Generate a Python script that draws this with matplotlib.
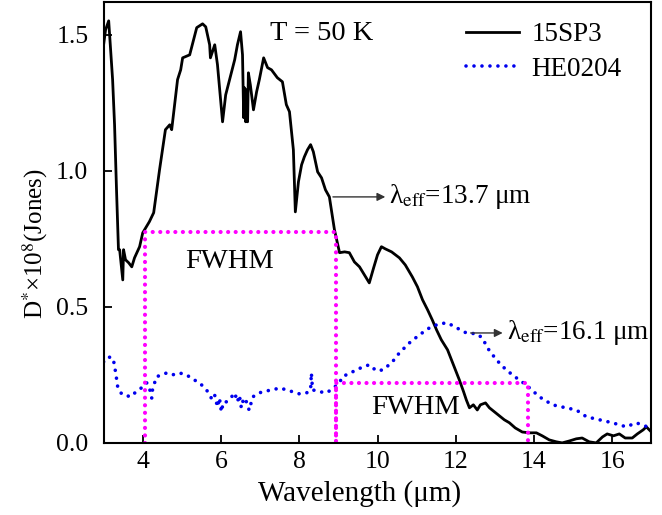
import numpy as np
import matplotlib
matplotlib.use('Agg')
import matplotlib.pyplot as plt

plt.rcParams['font.family'] = ['Liberation Serif', 'DejaVu Serif']
plt.rcParams['mathtext.fontset'] = 'stix'

# 15SP3 (black, solid)
wl_sp3 = [3.0, 3.0, 3.05, 3.13, 3.23, 3.28, 3.33, 3.38, 3.41, 3.49, 3.51, 3.56, 3.64, 3.72,
          3.79, 3.92, 4.00, 4.17, 4.28, 4.43, 4.58, 4.69, 4.74, 4.89, 4.97, 5.02, 5.20, 5.38,
          5.53, 5.61, 5.71, 5.73, 5.84, 5.91, 5.99, 6.04, 6.12, 6.22, 6.35, 6.42, 6.50, 6.55,
          6.58, 6.60, 6.63, 6.65, 6.68, 6.70, 6.75, 6.83, 6.91, 6.98, 7.09, 7.19, 7.29, 7.44,
          7.57, 7.67, 7.75, 7.85, 7.90, 7.98, 8.06, 8.13, 8.21, 8.29, 8.36, 8.47, 8.57, 8.67,
          8.77, 8.90, 9.03, 9.16, 9.28, 9.41, 9.54, 9.79, 9.90, 10.00, 10.10, 10.20, 10.36,
          10.56, 10.71, 10.89, 11.02, 11.15, 11.28, 11.40, 11.51, 11.63, 11.79, 11.94, 12.09,
          12.20, 12.27, 12.35, 12.45, 12.55, 12.63, 12.76, 12.86, 12.99, 13.12, 13.24, 13.37,
          13.52, 13.70, 13.88, 14.06, 14.21, 14.39, 14.57, 14.72, 14.90, 15.08, 15.23, 15.41,
          15.59, 15.75, 15.87, 16.03, 16.18, 16.33, 16.51, 16.64, 16.79, 16.87, 17.0]
d_sp3 = [1.70, 1.463, 1.518, 1.551, 1.335, 1.169, 0.930, 0.710, 0.710, 0.599, 0.710, 0.673,
         0.662, 0.647, 0.680, 0.721, 0.772, 0.813, 0.846, 1.004, 1.151, 1.169, 1.151, 1.335,
         1.371, 1.415, 1.426, 1.526, 1.540, 1.529, 1.463, 1.415, 1.463, 1.390, 1.261, 1.180,
         1.279, 1.335, 1.408, 1.463, 1.511, 1.426, 1.195, 1.305, 1.180, 1.298, 1.180, 1.360,
         1.316, 1.224, 1.290, 1.335, 1.415, 1.379, 1.371, 1.342, 1.327, 1.243, 1.217, 1.077,
         0.849, 0.960, 1.022, 1.051, 1.077, 1.096, 1.070, 0.996, 0.974, 0.930, 0.904, 0.783,
         0.699, 0.702, 0.699, 0.665, 0.647, 0.588, 0.643, 0.691, 0.721, 0.713, 0.702, 0.680,
         0.654, 0.610, 0.574, 0.526, 0.489, 0.452, 0.415, 0.379, 0.342, 0.287, 0.232, 0.188,
         0.158, 0.129, 0.140, 0.121, 0.140, 0.147, 0.129, 0.114, 0.099, 0.085, 0.074, 0.055,
         0.040, 0.037, 0.037, 0.026, 0.011, 0.004, 0.0, 0.007, 0.015, 0.018, 0.004, 0.0,
         0.022, 0.033, 0.026, 0.033, 0.018, 0.018, 0.033, 0.048, 0.059, 0.040]

# HE0204 (blue, dotted)
wl_he = [3.00, 3.08, 3.20, 3.26, 3.31, 3.36, 3.46, 3.59, 3.66, 3.84, 4.00, 4.10, 4.17, 4.23,
         4.25, 4.35, 4.61, 4.76, 4.94, 5.12, 5.27, 5.45, 5.63, 5.78, 5.84, 5.91, 5.96, 6.01,
         6.06, 6.14, 6.27, 6.35, 6.42, 6.47, 6.52, 6.58, 6.65, 6.72, 6.81, 6.98, 7.16, 7.32,
         7.50, 7.67, 7.83, 8.01, 8.19, 8.29, 8.31, 8.34, 8.52, 8.70, 8.85, 9.03, 9.10, 9.36,
         9.62, 9.79, 9.97, 10.13, 10.36, 10.56, 10.82, 11.07, 11.33, 11.58, 11.79, 12.02,
         12.27, 12.53, 12.68, 12.81, 13.04, 13.29, 13.55, 13.80, 14.14, 14.47, 14.72, 15.08,
         15.34, 15.67, 16.00, 16.36, 16.61, 16.90, 17.0]
d_he = [0.298, 0.313, 0.316, 0.298, 0.257, 0.206, 0.180, 0.176, 0.169, 0.188, 0.206, 0.221,
        0.202, 0.165, 0.195, 0.243, 0.257, 0.250, 0.257, 0.250, 0.235, 0.221, 0.195, 0.158,
        0.175, 0.132, 0.165, 0.114, 0.150, 0.151, 0.169, 0.184, 0.151, 0.175, 0.129, 0.165,
        0.151, 0.120, 0.169, 0.184, 0.191, 0.195, 0.202, 0.195, 0.188, 0.180, 0.184, 0.195,
        0.257, 0.195, 0.188, 0.184, 0.199, 0.221, 0.243, 0.261, 0.279, 0.287, 0.265, 0.268,
        0.294, 0.331, 0.368, 0.397, 0.423, 0.438, 0.441, 0.423, 0.404, 0.401, 0.386, 0.349,
        0.305, 0.268, 0.239, 0.213, 0.169, 0.140, 0.132, 0.121, 0.096, 0.085, 0.074, 0.059,
        0.074, 0.059, 0.048]

# FWHM boxes: (left, right, half max)
fwhm_sp3 = (4.06, 8.93, 0.775)
fwhm_he = (8.93, 13.85, 0.219)

serif = ['Liberation Serif', 'DejaVu Serif']

fig = plt.figure(figsize=(6.62, 5.15), dpi=100)
ax = fig.add_axes([0.1565, 0.140, 0.8275, 0.856])

ax.plot(wl_sp3, d_sp3, color='black', lw=2.0, label='15SP3')
ax.plot(wl_he, d_he, color='#0000ee', lw=2.6, dashes=(0.01, 2.2),
        dash_capstyle='round', label='HE0204')

mag = dict(color='#ff00ff', lw=3.0, dashes=(0.01, 1.8), dash_capstyle='round')
for lo, hi, hm in (fwhm_sp3, fwhm_he):
    ax.plot([lo, lo, hi, hi], [0, hm, hm, 0], **mag)

ax.text(6.23, 0.665, 'FWHM', fontsize=20.5, ha='center', va='center')
ax.text(10.96, 0.129, 'FWHM', fontsize=20.5, ha='center', va='center')
ax.text(8.58, 1.505, 'T = 50 K', fontsize=20.5, ha='center', va='center')

arr = dict(arrowstyle='-|>', color='#333333', lw=1.0, mutation_scale=12)
ax.annotate('', xy=(10.27, 0.904), xytext=(8.79, 0.904), arrowprops=arr)
ax.text(10.30, 0.904, 'λ$_{\\mathrm{eff}}$=13.7 μm', fontsize=19.5, va='center')
ax.annotate('', xy=(13.27, 0.404), xytext=(12.31, 0.404), arrowprops=arr)
ax.text(13.30, 0.404, 'λ$_{\\mathrm{eff}}$=16.1 μm', fontsize=19.5, va='center')

ax.set_xlim(3, 17)
ax.set_ylim(0, 1.62)
ax.set_xticks([4, 6, 8, 10, 12, 14, 16])
ax.set_xticklabels(['4', '6', '8', '10', '12', '14', '16'], fontfamily=serif)
ax.set_yticks([0.0, 0.5, 1.0, 1.5])
ax.set_yticklabels(['0.0', '0.5', '1.0', '1.5'], fontfamily=serif)
ax.tick_params(direction='in', length=6, width=1.3, labelsize=18.5)
ax.tick_params(axis='x', pad=6)
ax.tick_params(axis='y', pad=11)
for s in ax.spines.values():
    s.set_linewidth(1.5)

ax.set_xlabel('Wavelength (μm)', fontsize=21)
ax.xaxis.set_label_coords(0.468, -0.085)
ax.set_ylabel('D$^{*}$×10$^{8}$(Jones)', fontsize=18)
ax.yaxis.set_label_coords(-0.098, 0.453)

ax.legend(loc='upper right', bbox_to_anchor=(0.955, 0.967), frameon=False, fontsize=19.5,
          handlelength=1.95, handletextpad=0.45, borderaxespad=0.0, borderpad=0.2,
          labelspacing=0.35)

fig.savefig('out.png', dpi=100)
